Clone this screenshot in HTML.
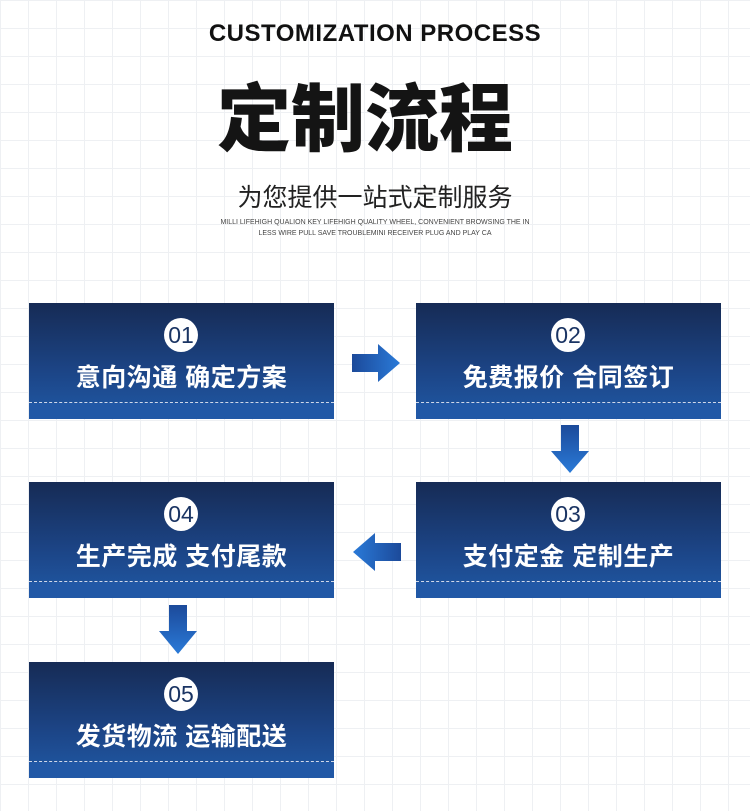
<!DOCTYPE html>
<html><head><meta charset="utf-8"><style>
body{margin:0;width:750px;height:811px;position:relative;overflow:hidden;font-family:"Liberation Sans","Noto Sans CJK SC",sans-serif;
background-color:#fff;background-image:linear-gradient(#eef0f3 1px,transparent 1px),linear-gradient(90deg,#eef0f3 1px,transparent 1px);background-size:28px 28px;}
.t{position:absolute;left:0;width:750px;text-align:center;color:#111}
.box{position:absolute;width:305px;height:116px;background:linear-gradient(#162b55 0%,#1c4587 60%,#2059a5 100%);}
.box .c{position:absolute;left:135px;top:15px;width:34px;height:34px;border-radius:50%;background:#fff;color:#1a3463;font-size:23px;line-height:34px;text-align:center}
.box .l{position:absolute;left:0;width:100%;top:55px;text-align:center;color:#fff;font-weight:bold;font-size:25px;letter-spacing:0.5px}
.box .d{position:absolute;left:0;right:0;top:99px;border-top:1px dashed #cfd8ea}
.box .b{position:absolute;left:0;right:0;top:100px;bottom:0;background:#2158a6}
</style></head><body>
<div class="t" style="top:20px;font-size:24px;font-weight:bold;letter-spacing:0.5px">CUSTOMIZATION PROCESS</div>
<div class="t" style="top:60px;left:-10px;font-size:74px;font-weight:900;color:#141414">定制流程</div>
<div class="t" style="top:178px;font-size:25px;color:#222">为您提供一站式定制服务</div>
<div class="t" style="top:217px;font-size:7px;line-height:11px;color:#444">MILLI LIFEHIGH QUALION KEY LIFEHIGH QUALITY WHEEL, CONVENIENT BROWSING THE IN<br>LESS WIRE PULL SAVE TROUBLEMINI RECEIVER PLUG AND PLAY CA</div>

<div class="box" style="left:29px;top:303px"><div class="b"></div><div class="d"></div><div class="c">01</div><div class="l">意向沟通 确定方案</div></div>
<div class="box" style="left:416px;top:303px"><div class="b"></div><div class="d"></div><div class="c">02</div><div class="l">免费报价 合同签订</div></div>
<div class="box" style="left:416px;top:482px"><div class="b"></div><div class="d"></div><div class="c">03</div><div class="l">支付定金 定制生产</div></div>
<div class="box" style="left:29px;top:482px"><div class="b"></div><div class="d"></div><div class="c">04</div><div class="l">生产完成 支付尾款</div></div>
<div class="box" style="left:29px;top:662px"><div class="b"></div><div class="d"></div><div class="c">05</div><div class="l">发货物流 运输配送</div></div>

<svg width="750" height="811" style="position:absolute;left:0;top:0">
<defs>
<linearGradient id="h" x1="0" x2="1"><stop offset="0" stop-color="#1c4a9a"/><stop offset="1" stop-color="#2a7ad8"/></linearGradient>
<linearGradient id="hl" x1="1" x2="0"><stop offset="0" stop-color="#1c4a9a"/><stop offset="1" stop-color="#2a7ad8"/></linearGradient>
<linearGradient id="v" x1="0" y1="0" x2="0" y2="1"><stop offset="0" stop-color="#1c4a9a"/><stop offset="1" stop-color="#2a7ad8"/></linearGradient>
</defs>
<polygon fill="url(#h)" points="352,354 378,354 378,344 400,363 378,382 378,372 352,372"/>
<polygon fill="url(#hl)" points="401,543 375,543 375,533 353,552 375,571 375,561 401,561"/>
<polygon fill="url(#v)" points="561,425 579,425 579,451 589,451 570,473 551,451 561,451"/>
<polygon fill="url(#v)" points="169,605 187,605 187,631 197,631 178,654 159,631 169,631"/>
</svg>
</body></html>
